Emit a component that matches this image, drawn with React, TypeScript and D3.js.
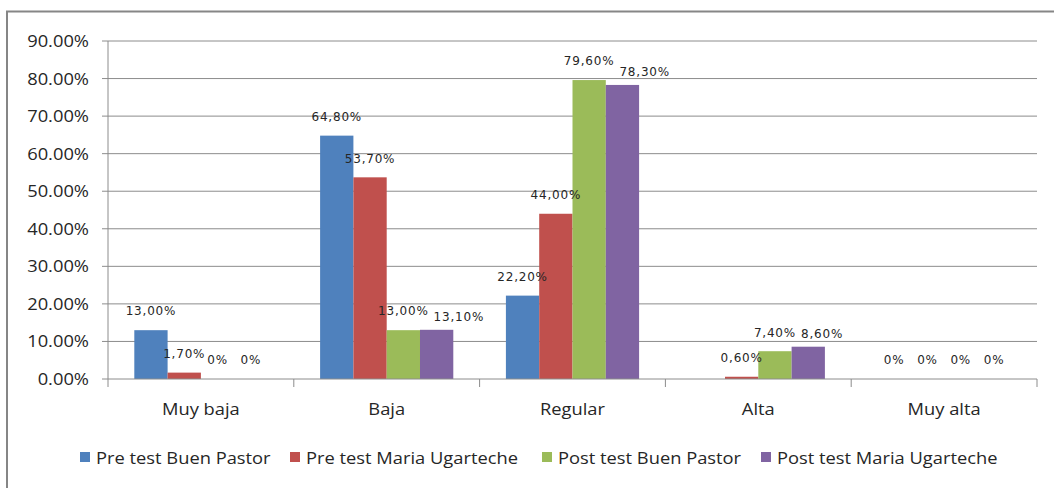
import React from "react";
import * as d3 from "d3";

const categories = ["Muy baja", "Baja", "Regular", "Alta", "Muy alta"];
const seriesNames = [
  "Pre test Buen Pastor",
  "Pre test Maria Ugarteche",
  "Post test Buen Pastor",
  "Post test Maria Ugarteche",
];
const preBuenPastor: (number | null)[] = [0.13, 0.648, 0.222, null, 0];
const preMariaUgarteche: (number | null)[] = [0.017, 0.537, 0.44, 0.006, 0];
const postBuenPastor: (number | null)[] = [0, 0.13, 0.796, 0.074, 0];
const postMariaUgarteche: (number | null)[] = [0, 0.131, 0.783, 0.086, 0];
const yTicks = [0, 0.1, 0.2, 0.3, 0.4, 0.5, 0.6, 0.7, 0.8, 0.9];
const colors = ["#4F81BD", "#C0504D", "#9BBB59", "#8064A2"];

const seriesValues = [preBuenPastor, preMariaUgarteche, postBuenPastor, postMariaUgarteche];

const W = 1054;
const H = 488;
const plotLeft = 108;
const plotRight = 1037;
const plotTop = 41;
const plotBottom = 379;

const fmtTick = d3.format(".2%");
const fmtLabel = (v: number) => (v === 0 ? "0%" : d3.format(".2f")(v * 100).replace(".", ",") + "%");

const legendSquareX = [80, 290, 542, 761];

const axisFont = "'Open Sans', Lato, sans-serif";
const axisSize = 16.5;
const stretch = 1.11;
const labelFont = "'DejaVu Sans', Verdana, sans-serif";
const labelSize = 12;
const labelSpacing = 0.8;

let ctx: CanvasRenderingContext2D | null = null;
function measure(text: string): number {
  if (!ctx && typeof document !== "undefined") {
    ctx = document.createElement("canvas").getContext("2d");
  }
  if (!ctx) return text.length * 8;
  ctx.font = `${labelSize}px 'DejaVu Sans'`;
  return ctx.measureText(text).width + labelSpacing * text.length;
}

function AText(props: { x: number; y: number; anchor?: "start" | "middle" | "end"; children: string }) {
  return (
    <g transform={`translate(${props.x},${props.y}) scale(${stretch},1)`}>
      <text
        x={0}
        y={0}
        dy="0.36em"
        textAnchor={props.anchor || "start"}
        fontFamily={axisFont}
        fontSize={axisSize}
        fill="#262626"
      >
        {props.children}
      </text>
    </g>
  );
}

export default function App() {
  const x0 = d3.scaleBand<string>().domain(categories).range([plotLeft, plotRight]).paddingInner(0).paddingOuter(0);
  const x1 = d3
    .scaleBand<string>()
    .domain(seriesNames)
    .range([0, x0.bandwidth()])
    .paddingInner(0)
    .paddingOuter(0.79);
  const y = d3.scaleLinear().domain([0, 0.9]).range([plotBottom, plotTop]);

  type Lab = { key: string; text: string; cx: number; cy: number };
  const labels: Lab[] = [];
  categories.forEach((c, ci) => {
    let prev: { x0: number; x1: number; y0: number; y1: number } | null = null;
    seriesNames.forEach((s, si) => {
      const v = seriesValues[si][ci];
      if (v === null) return;
      const text = fmtLabel(v);
      const w = measure(text);
      let cx = (x0(c) as number) + (x1(s) as number) + x1.bandwidth() / 2;
      let cy = y(v) - 19;
      let box = { x0: cx - w / 2, x1: cx + w / 2, y0: cy - 6, y1: cy + 6 };
      if (prev && box.x0 < prev.x1 && box.y1 > prev.y0 && box.y0 < prev.y1) {
        const nx0 = prev.x1 + 5;
        cx = nx0 + w / 2;
        cy = y(v) - 13;
        box = { x0: nx0, x1: nx0 + w, y0: cy - 6, y1: cy + 6 };
      }
      prev = box;
      labels.push({ key: c + s, text, cx, cy });
    });
  });

  return (
    <svg width={W} height={H} style={{ position: "absolute", left: 0, top: 0, background: "#fff" }}>
      <rect x={7} y={11.5} width={W + 20} height={H + 20} fill="#fff" stroke="#868686" strokeWidth={2} />
      {yTicks.map((t) => (
        <g key={t}>
          {t > 0 && <line x1={plotLeft} x2={plotRight} y1={y(t)} y2={y(t)} stroke="#8c8c8c" strokeWidth={1} />}
          <line x1={plotLeft - 6} x2={plotLeft} y1={y(t)} y2={y(t)} stroke="#8c8c8c" strokeWidth={1} />
          <AText x={89} y={y(t)} anchor="end">
            {fmtTick(t)}
          </AText>
        </g>
      ))}
      {categories.map((c, ci) => (
        <g key={c} transform={`translate(${x0(c)},0)`}>
          {seriesNames.map((s, si) => {
            const v = seriesValues[si][ci];
            if (v === null) return null;
            return (
              <rect
                key={s}
                x={x1(s)}
                y={y(v)}
                width={x1.bandwidth()}
                height={plotBottom - y(v)}
                fill={colors[si]}
              />
            );
          })}
        </g>
      ))}
      <line x1={plotLeft} x2={plotLeft} y1={plotTop} y2={plotBottom} stroke="#8c8c8c" strokeWidth={1} />
      <line x1={plotLeft} x2={plotRight} y1={plotBottom} y2={plotBottom} stroke="#8c8c8c" strokeWidth={1} />
      {categories.map((c) => (
        <line
          key={"tk" + c}
          x1={x0(c) as number}
          x2={x0(c) as number}
          y1={plotBottom}
          y2={plotBottom + 8}
          stroke="#8c8c8c"
        />
      ))}
      <line x1={plotRight} x2={plotRight} y1={plotBottom} y2={plotBottom + 8} stroke="#8c8c8c" />
      {labels.map((l) => (
        <text
          key={l.key}
          x={l.cx}
          y={l.cy}
          dy="0.36em"
          textAnchor="middle"
          fontFamily={labelFont}
          fontSize={labelSize}
          letterSpacing={labelSpacing}
          fill="#262626"
        >
          {l.text}
        </text>
      ))}
      {categories.map((c) => (
        <AText key={"cl" + c} x={(x0(c) as number) + x0.bandwidth() / 2} y={409} anchor="middle">
          {c}
        </AText>
      ))}
      {seriesNames.map((s, si) => (
        <g key={"lg" + s}>
          <rect x={legendSquareX[si]} y={452} width={10} height={10} fill={colors[si]} />
          <AText x={legendSquareX[si] + 16} y={458}>
            {s}
          </AText>
        </g>
      ))}
    </svg>
  );
}
